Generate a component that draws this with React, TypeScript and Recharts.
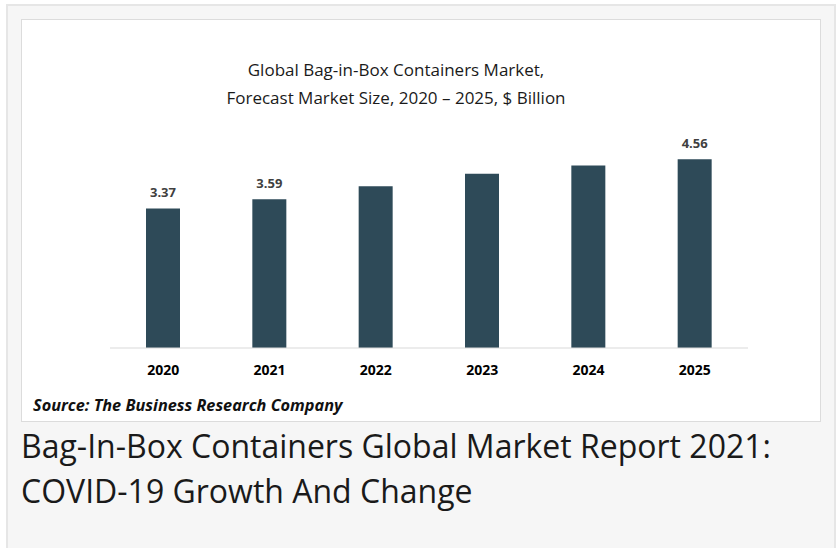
import { BarChart, Bar, XAxis, YAxis, LabelList } from "recharts";

// ── Datos ──────────────────────────────────────────────────────────────────────
const years = ["2020", "2021", "2022", "2023", "2024", "2025"];
const marketSize = [3.37, 3.59, 3.91, 4.21, 4.41, 4.56];
const labeledYears = ["2020", "2021", "2025"];

const data = years.map((year, i) => ({ year, value: marketSize[i] }));

// ── Estilos ────────────────────────────────────────────────────────────────────
const FONT = "'Open Sans', 'Noto Sans', sans-serif";
const BAR_COLOR = "#2e4a58";

const TITLE: React.CSSProperties = {
  position: "absolute",
  left: 196,
  top: 56,
  width: 400,
  textAlign: "center",
  fontFamily: FONT,
  fontSize: 17,
  lineHeight: "28px",
  color: "#1a1a1a",
  whiteSpace: "nowrap",
};

function ValueLabel(props: any) {
  const { x, y, width, index } = props;
  if (!labeledYears.includes(years[index])) return null;
  return (
    <text
      x={x + width / 2}
      y={y - 11}
      textAnchor="middle"
      fontFamily={FONT}
      fontSize={13}
      fontWeight={700}
      fill="#404040"
    >
      {marketSize[index].toFixed(2)}
    </text>
  );
}

export default function App() {
  return (
    <div style={{ position: "absolute", left: 0, top: 0, width: 836, height: 548, overflow: "hidden", background: "#fff" }}>
      {/* marco exterior */}
      <div style={{
        position: "absolute", left: 6, top: 4, width: 826, height: 560,
        background: "#f6f6f6", border: "2px solid #e6e6e6",
      }} />
      {/* tarjeta del gráfico */}
      <div style={{
        position: "absolute", left: 21, top: 19, width: 798, height: 401,
        background: "#ffffff", border: "1px solid #dcdcdc",
      }} />

      <div style={TITLE}>
        Global Bag-in-Box Containers Market,<br />
        Forecast Market Size, 2020 – 2025, $ Billion
      </div>

      <div style={{ position: "absolute", left: 0, top: 0 }}>
        <BarChart
          width={836}
          height={420}
          data={data}
          margin={{ top: 141, right: 88, left: 110, bottom: 42 }}
        >
          <XAxis
            dataKey="year"
            height={30}
            axisLine={{ stroke: "#d9d9d9", strokeWidth: 1 }}
            tickLine={false}
            tickMargin={11}
            tick={{ fill: "#000", fontSize: 14, fontWeight: 700, fontFamily: FONT }}
          />
          <YAxis hide domain={[0, 5]} />
          <Bar dataKey="value" fill={BAR_COLOR} barSize={34} isAnimationActive={false}>
            <LabelList dataKey="value" content={<ValueLabel />} />
          </Bar>
        </BarChart>
      </div>

      <div style={{
        position: "absolute", left: 33, top: 394, fontFamily: FONT, fontSize: 16.3,
        fontWeight: 700, fontStyle: "italic", color: "#111", whiteSpace: "nowrap",
      }}>
        Source: The Business Research Company
      </div>

      <div style={{
        position: "absolute", left: 21, top: 423, width: 812, fontFamily: FONT,
        fontSize: 32, lineHeight: "45px", color: "#1a1a1a", whiteSpace: "nowrap",
      }}>
        Bag-In-Box Containers Global Market Report 2021:<br />
        COVID-19 Growth And Change
      </div>
    </div>
  );
}
